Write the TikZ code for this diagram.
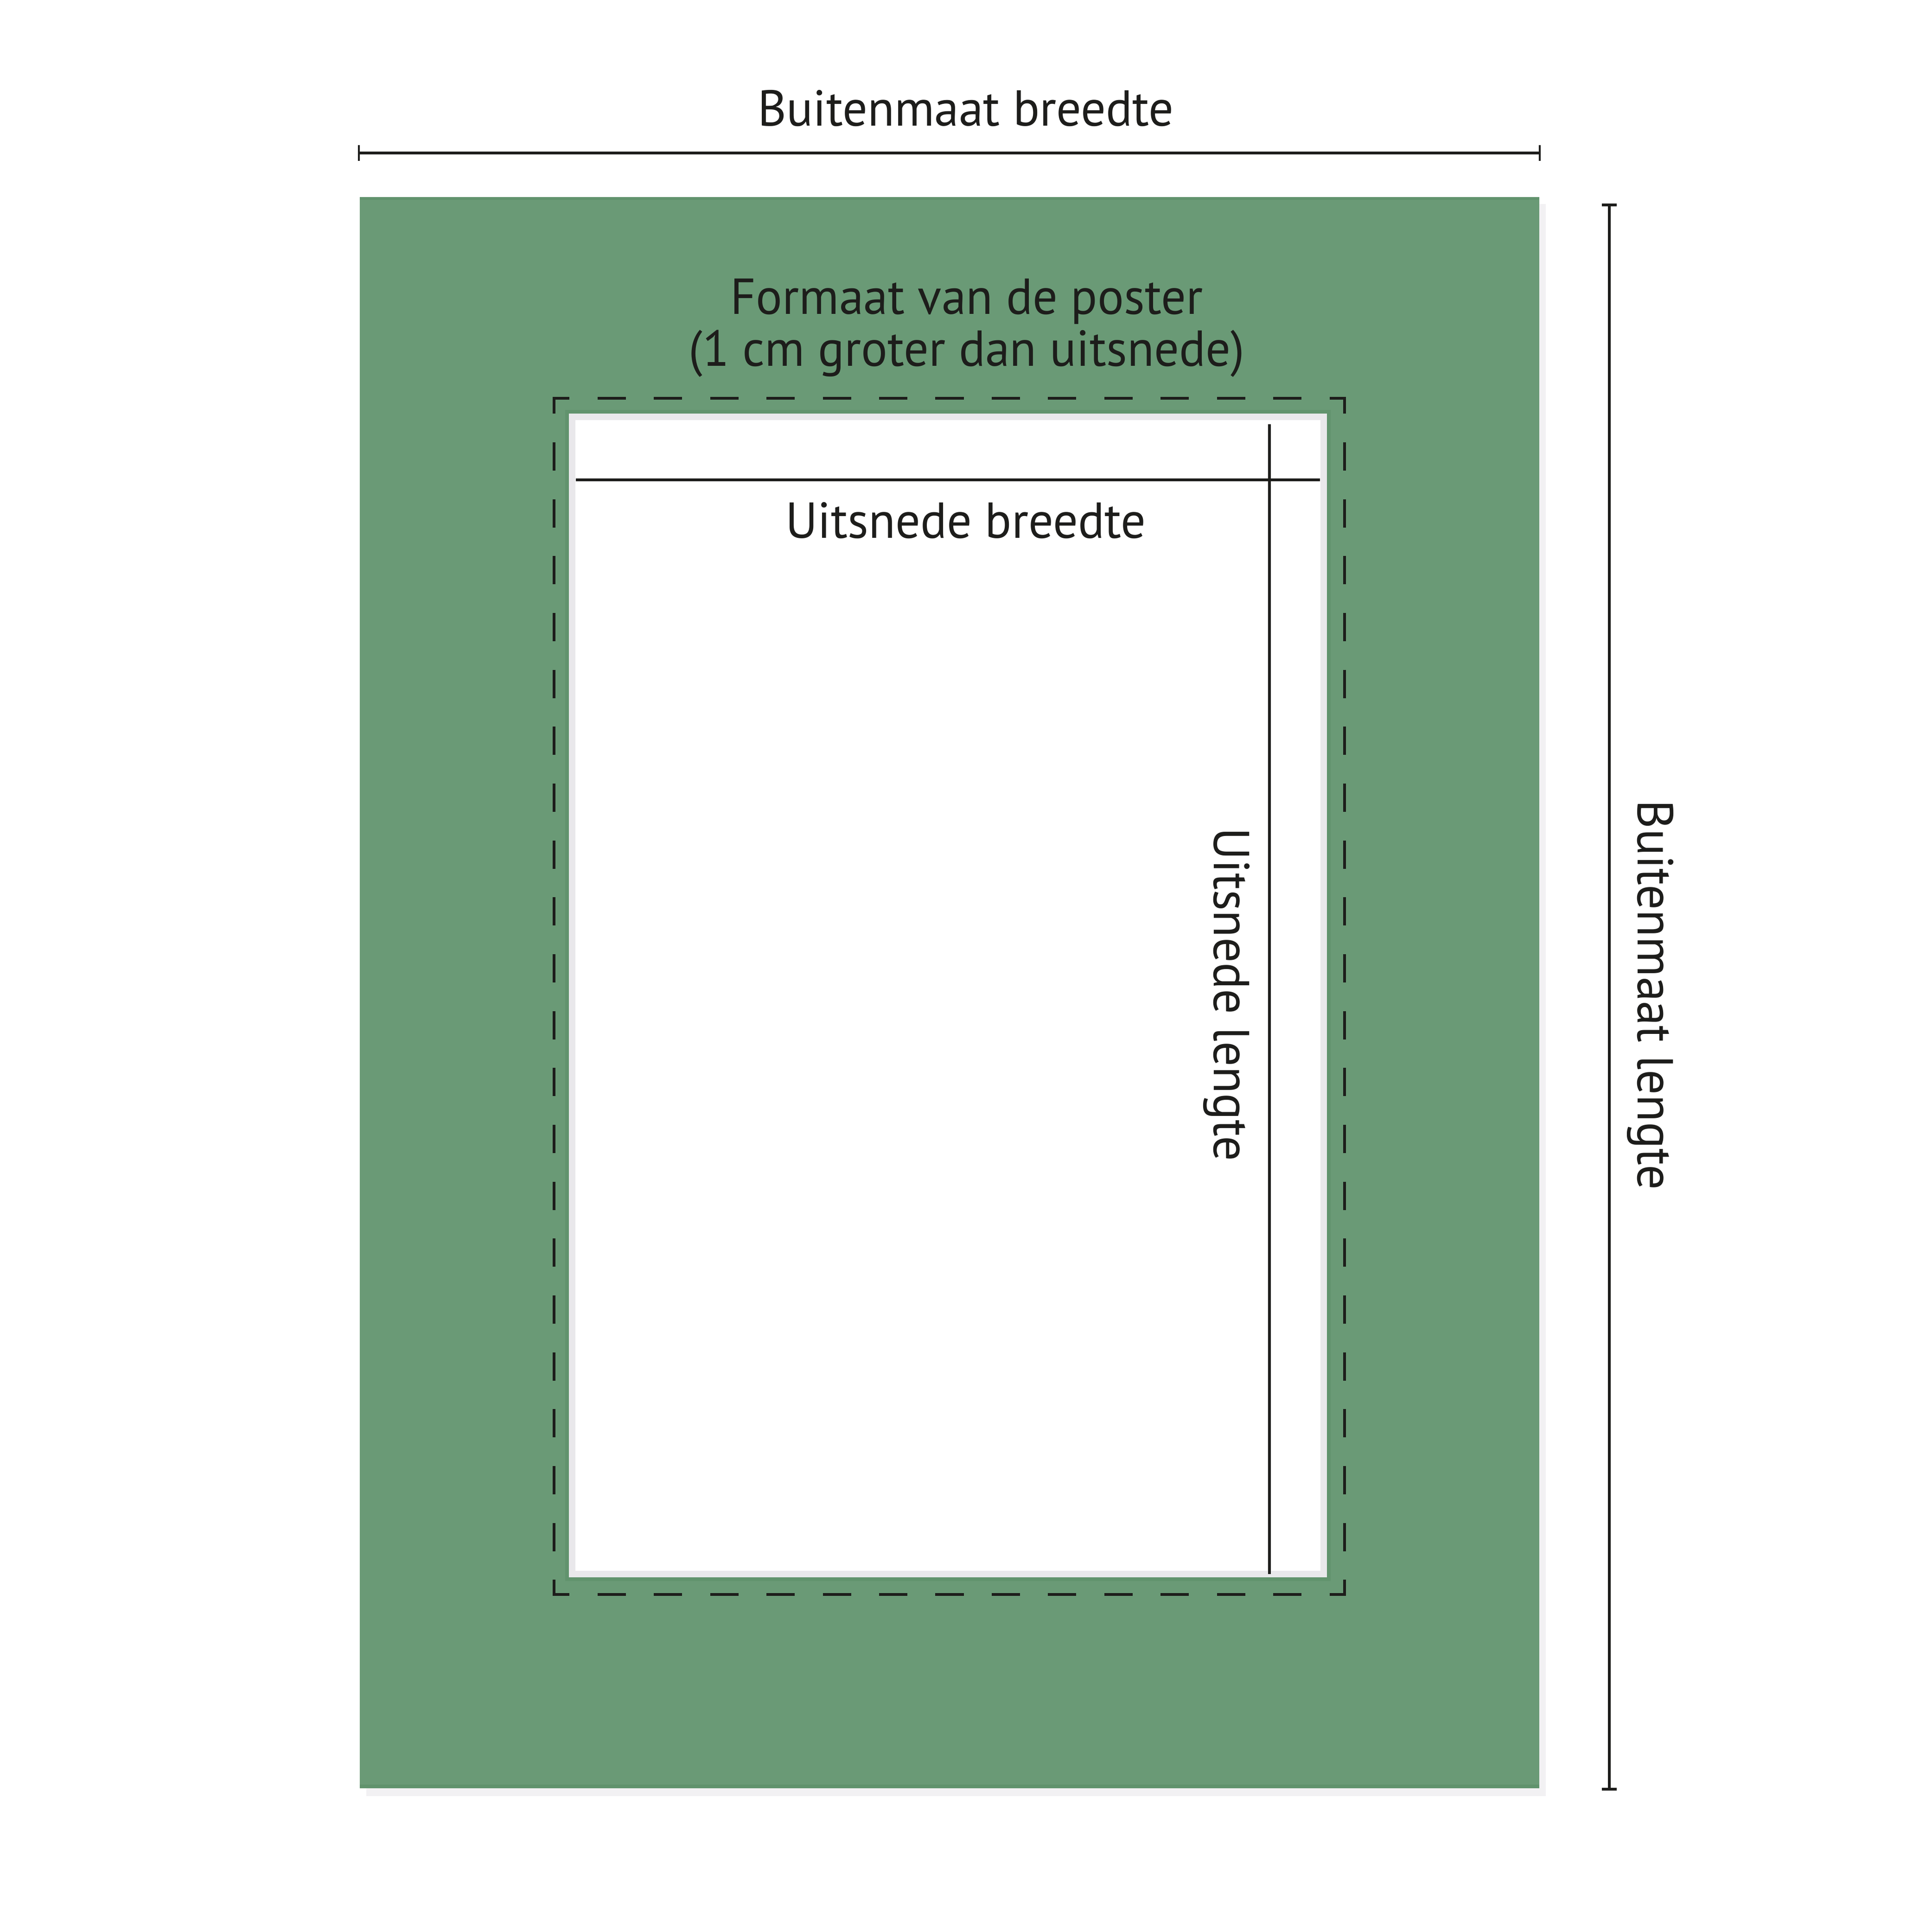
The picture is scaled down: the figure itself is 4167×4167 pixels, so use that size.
\documentclass[tikz,border=0pt]{standalone}
\usepackage{fontspec}
\setmainfont{PT Sans}[FakeStretch=0.975]
\definecolor{mat}{RGB}{106,154,118}
\definecolor{matdark}{RGB}{97,147,109}
\definecolor{ink}{RGB}{29,29,27}
\definecolor{bevel}{RGB}{233,232,235}
\definecolor{shadowgray}{RGB}{242,241,243}
\begin{document}
\begin{tikzpicture}[x=0.01cm,y=-0.01cm,
  lbl/.style={font=\fontsize{31}{32}\selectfont, text=ink, inner sep=0pt, anchor=base},
  dimline/.style={draw=ink, line width=1.6pt},
  tickmark/.style={draw=ink, line width=1.1pt},
  cutline/.style={draw=ink, line width=1.5pt},
  dashh/.style={draw=ink, line width=1.6pt, dash pattern=on 0.61cm off 0.604cm, dash phase=0.25cm},
  dashv/.style={draw=ink, line width=1.6pt, dash pattern=on 0.61cm off 0.616cm, dash phase=0.25cm}]
\useasboundingbox (0,0) rectangle (4167,4167);
\fill[white] (0,0) rectangle (4167,4167);
% shadow and mat board
\fill[shadowgray] (790,440) rectangle (3334,3874);
\fill[mat] (776,425) rectangle (3320,3857);
\fill[matdark] (776,425) rectangle (3320,431);
\fill[matdark] (776,3849) rectangle (3320,3857);
% window opening
\fill[matdark] (1219,884) rectangle (2870,3410);
\fill[white] (1227,892) rectangle (2862,3402);
\draw[bevel, line width=4pt] (1234,899) rectangle (2855,3395);
% poster size (dashed)
\coordinate (pTL) at (1195,859);
\coordinate (pTR) at (2900,859);
\coordinate (pBL) at (1195,3439);
\coordinate (pBR) at (2900,3439);
\draw[dashh] ([xshift=-0.8pt]pTL) -- ([xshift=0.8pt]pTR);
\draw[dashh] ([xshift=-0.8pt]pBL) -- ([xshift=0.8pt]pBR);
\draw[dashv] ([yshift=0.8pt]pTL) -- ([yshift=-0.8pt]pBL);
\draw[dashv] ([yshift=0.8pt]pTR) -- ([yshift=-0.8pt]pBR);
% outer width dimension
\coordinate (wL) at (774,330);
\coordinate (wR) at (3321,330);
\draw[dimline] (wL) -- (wR);
\draw[tickmark] (wL) ++(0,-17) -- ++(0,34);
\draw[tickmark] (wR) ++(0,-17) -- ++(0,34);
% outer length dimension
\coordinate (hT) at (3471,442);
\coordinate (hB) at (3471,3859);
\draw[dimline] (hT) -- (hB);
\draw[dimline] (hT) ++(-16,0) -- ++(32,0);
\draw[dimline] (hB) ++(-16,0) -- ++(32,0);
% window dimensions
\coordinate (cwL) at (1242,1035);
\coordinate (cwR) at (2847,1035);
\coordinate (clT) at (2738,915);
\coordinate (clB) at (2738,3395);
\draw[cutline] (cwL) -- (cwR);
\draw[cutline] (clT) -- (clB);
% labels
\node[lbl] (outw) at (2083,272) {Buitenmaat breedte};
\node[lbl] (poster1) at (2085,678) {Formaat van de poster};
\node[lbl] (poster2) at (2085,789) {(1 cm groter dan uitsnede)};
\node[lbl] (cutw) at (2083,1160) {Uitsnede breedte};
\node[lbl, rotate=-90] (cutl) at (2618,2145) {Uitsnede lengte};
\node[lbl, rotate=-90] (outl) at (3532,2146) {Buitenmaat lengte};
\end{tikzpicture}
\end{document}
